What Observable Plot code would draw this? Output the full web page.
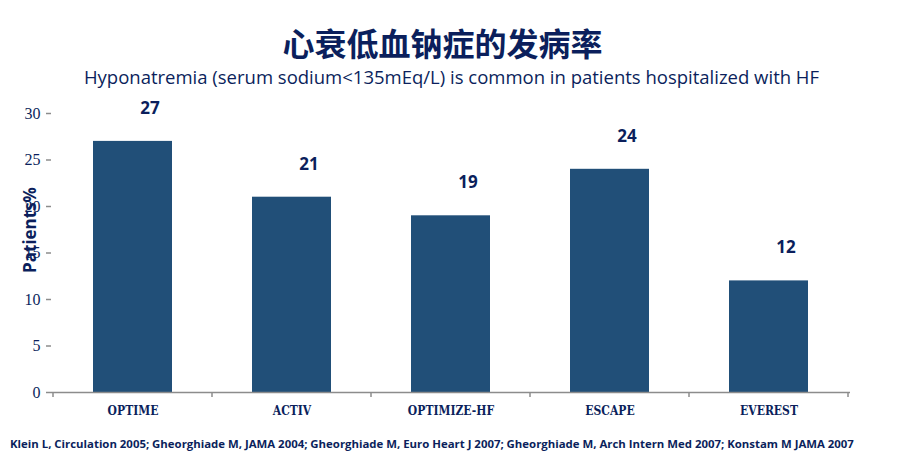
<!DOCTYPE html>
<html>
<head>
<meta charset="utf-8">
<script src="https://cdn.jsdelivr.net/npm/d3@7"></script>
<script src="https://cdn.jsdelivr.net/npm/@observablehq/plot@0.6"></script>
<style>
  html, body { margin: 0; padding: 0; background: #fff; }
  #wrap { position: relative; width: 915px; height: 459px; overflow: hidden; }
  #title { position: absolute; left: -15px; width: 915px; top: 21px; text-align: center;
    font-family: "Noto Sans CJK SC", sans-serif; font-weight: 700; font-size: 32px; line-height: 42px; color: #0b1f5c; }
  #subtitle { position: absolute; left: -6px; width: 915px; top: 64px; text-align: center;
    font-family: "Open Sans", sans-serif; font-size: 18.5px; line-height: 26px; color: #0b1f5c; }
  #chart { position: absolute; left: 0; top: 90px; }
  #caption { position: absolute; left: 10px; top: 436px; white-space: nowrap;
    font-family: "Open Sans", sans-serif; font-weight: 700; font-size: 11.4px; line-height: 16px; color: #0b1f5c; }
</style>
</head>
<body>
<div id="wrap">
  <div id="title">心衰低血钠症的发病率</div>
  <div id="subtitle">Hyponatremia (serum sodium&lt;135mEq/L) is common in patients hospitalized with HF</div>
  <div id="chart"></div>
  <div id="caption">Klein L, Circulation 2005; Gheorghiade M, JAMA 2004; Gheorghiade M, Euro Heart J 2007; Gheorghiade M, Arch Intern Med 2007; Konstam M JAMA 2007</div>
</div>
<script>
const categories = ["OPTIME", "ACTIV", "OPTIMIZE-HF", "ESCAPE", "EVEREST"];
const values = [27, 21, 19, 24, 12];
const yTicks = [0, 5, 10, 15, 20, 25, 30];
const yLabel = "Patients%";

const data = categories.map((c, i) => ({cat: c, v: values[i]}));
const navy = "#0b1f5c";
const barColor = "#214f78";
const axisColor = "#8c8c8c";

const plot = Plot.plot({
  width: 915,
  height: 340,
  marginLeft: 51,
  marginRight: 65,
  marginTop: 23,
  marginBottom: 38,
  x: {domain: categories, paddingInner: 0, paddingOuter: 0, align: 0.5, label: null},
  y: {domain: [0, 30], label: null},
  marks: [
    Plot.barY(data, {x: "cat", y: "v", fill: barColor, insetLeft: 40, insetRight: 40}),
    Plot.ruleY([0], {stroke: axisColor, strokeWidth: 1.5}),
    Plot.axisY({ticks: yTicks, tickSize: 5, stroke: axisColor, strokeWidth: 1.5, strokeOpacity: 1, tickPadding: 6, label: null,
      fontFamily: "Liberation Serif, serif", fontSize: 16, fill: navy}),
    Plot.ruleX([0], {frameAnchor: "left", stroke: axisColor, strokeWidth: 1.5}),
    Plot.axisX({tickSize: 0, tickPadding: 14, label: null,
      fontFamily: "DejaVu Serif Condensed, serif", fontWeight: "bold", fontSize: 12, fill: navy}),
    Plot.text(data, {x: "cat", y: "v", text: (d) => String(d.v), dx: 17, dy: -33,
      fontFamily: "Open Sans, sans-serif", fontWeight: "bold", fontSize: 17, fill: navy}),
    Plot.text([yLabel], {frameAnchor: "left", textAnchor: "middle", dx: -21, dy: -23, rotate: -90,
      fontFamily: "Open Sans, sans-serif", fontWeight: "bold", fontSize: 17, fill: navy})
  ]
});
document.getElementById("chart").appendChild(plot);

// category boundary tick marks drawn through the x scale's band positions
const xs = plot.scale("x");
const ys = plot.scale("y");
const svg = d3.select(plot);
const bounds = categories.map(c => xs.apply(c)).concat([xs.apply(categories[categories.length - 1]) + xs.bandwidth]);
svg.append("g").selectAll("line").data(bounds).join("line")
  .attr("x1", d => d).attr("x2", d => d)
  .attr("y1", ys.apply(0)).attr("y2", ys.apply(0) + 5)
  .attr("stroke", axisColor).attr("stroke-width", 1.5);
</script>
</body>
</html>
